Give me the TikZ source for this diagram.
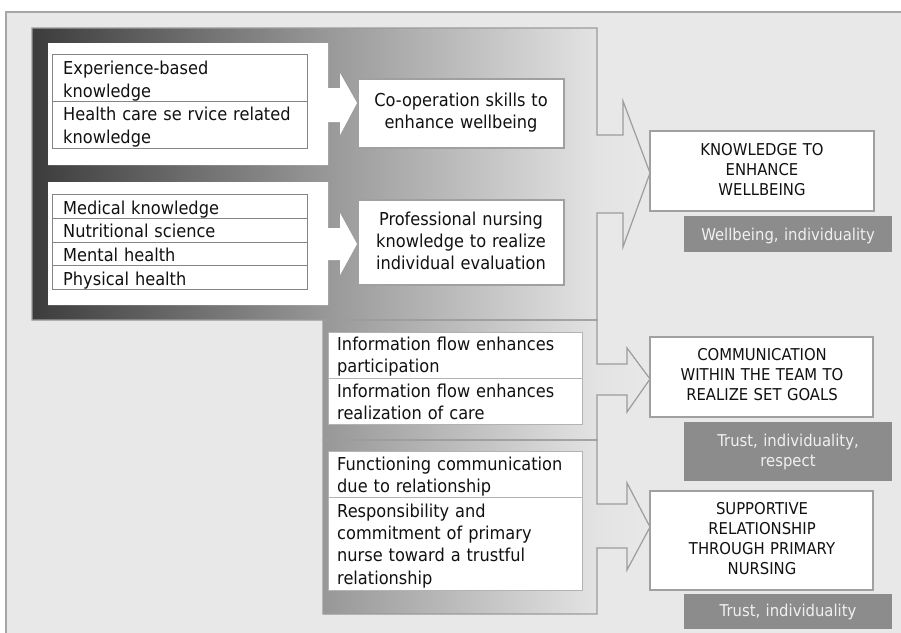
\documentclass[tikz,border=0pt]{standalone}
\usepackage{fontspec}
\setmainfont{DejaVu Sans}[FakeStretch=0.91]

% grey ramp used behind the grouped categories (dark on the left, light on the right)
\pgfdeclarehorizontalshading{panelshade}{100bp}{%
  rgb(0bp)=(0.235,0.235,0.235);
  rgb(25bp)=(0.235,0.235,0.235);
  rgb(27.3bp)=(0.27,0.27,0.27);
  rgb(49.1bp)=(0.60,0.60,0.60);
  rgb(70.7bp)=(0.89,0.89,0.89);
  rgb(75bp)=(0.91,0.91,0.91);
  rgb(100bp)=(0.91,0.91,0.91)}

\definecolor{bg}{HTML}{E8E8E8}
\definecolor{frameline}{HTML}{A6A6A6}
\definecolor{panelline}{HTML}{9C9C9C}
\definecolor{tableline}{HTML}{858585}
\definecolor{boxline}{HTML}{A0A0A0}
\definecolor{tagfill}{HTML}{8C8C8C}
\definecolor{ink}{HTML}{111111}

\tikzset{
  panel/.style={draw=panelline, line width=1.2pt},
  whiteframe/.style={fill=white, draw=none},
  listbox/.style={draw=tableline, line width=0.9pt},
  infobox/.style={fill=white, draw=boxline!80, line width=0.9pt},
  resultbox/.style={fill=white, draw=boxline, line width=1.4pt},
  midbox/.style={fill=white, draw=boxline, line width=1.1pt},
  tagbox/.style={fill=tagfill, draw=none},
  listtext/.style={anchor=base west, inner sep=0pt, text width=300pt, align=left,
    text=ink, font=\fontsize{17.8}{23}\selectfont},
  lowtext/.style={listtext, font=\fontsize{17.8}{22.4}\selectfont},
  ctext/.style={anchor=base, inner sep=0pt, text width=220pt, align=center,
    text=ink, font=\fontsize{17.8}{22.2}\selectfont},
  capstext/.style={anchor=base, inner sep=0pt, text width=220pt, align=center,
    text=ink, font=\fontsize{16.3}{20.2}\selectfont},
  tagtext/.style={anchor=base, inner sep=0pt, text width=220pt, align=center,
    text=white!94!black, font=\fontsize{16.3}{20}\selectfont},
}

\begin{document}
\begin{tikzpicture}[x=1pt,y=-1pt]
\useasboundingbox (0,0) rectangle (901,632);

% page background with its frame on the left and top
\fill[white] (0,0) rectangle (901,632);
\begin{scope}
  \clip (0,0) rectangle (901,632);
  \draw[fill=bg, draw=frameline, line width=1.6pt] (6,12) rectangle (906,640);
\end{scope}

% outlines of the three grouped panels, each ending in an arrow
\def\toppanel{(32,28) -- (597,28) -- (597,135) -- (623,135) -- (623,101) -- (650,173)
  -- (623,247) -- (623,213) -- (597,213) -- (597,320) -- (32,320) -- cycle}
\def\midpanel{(323,320) -- (597,320) -- (597,364) -- (627,364) -- (627,348) -- (650,379)
  -- (627,412) -- (627,395) -- (597,395) -- (597,440) -- (323,440) -- cycle}
\def\lowpanel{(323,440) -- (597,440) -- (597,504) -- (627,504) -- (627,483) -- (650,527)
  -- (627,570) -- (627,548) -- (597,548) -- (597,614) -- (323,614) -- cycle}

\begin{scope}
  \clip \toppanel \midpanel \lowpanel;
  \shade[shading=panelshade] (32,28) rectangle (650,614);
\end{scope}
\draw[panel] \midpanel;
\draw[panel] \lowpanel;
\draw[panel] \toppanel;

% white frames around the knowledge lists, with their arrows
\fill[whiteframe] (48,43) -- (328,43) -- (328,88) -- (340,88) -- (340,73) -- (357,103)
  -- (340,135) -- (340,122) -- (328,122) -- (328,165) -- (48,165) -- cycle;
\fill[whiteframe] (48,182) -- (328,182) -- (328,228) -- (340,228) -- (340,213) -- (357,244)
  -- (340,275) -- (340,260) -- (328,260) -- (328,305) -- (48,305) -- cycle;

% list tables
\draw[listbox] (52,54) rectangle (307,148);
\draw[listbox] (52,101) -- (307,101);
\draw[listbox] (52,194) rectangle (307,289);
\foreach \yy in {218,242,265} \draw[listbox] (52,\yy) -- (307,\yy);

\draw[infobox] (328,332) rectangle (582,424);
\draw[infobox] (328,378) -- (582,378);
\draw[infobox] (328,451) rectangle (582,590);
\draw[infobox] (328,497) -- (582,497);

% intermediate competences
\draw[midbox] (358,79) rectangle (564,148);
\draw[midbox] (358,200) rectangle (564,285);

% resulting themes and their values
\draw[resultbox] (650,131) rectangle (874,211);
\draw[resultbox] (650,337) rectangle (873,417);
\draw[resultbox] (650,491) rectangle (873,590);
\fill[tagbox] (684,216) rectangle (892,252);
\fill[tagbox] (684,422) rectangle (892,481);
\fill[tagbox] (684,594) rectangle (892,629);

% texts
\node[listtext] (exp) at (63,74) {Experience-based\\knowledge};
\node[listtext] (hcs) at (63,120) {Health care se rvice related\\knowledge};
\node[listtext] (med) at (63,214) {Medical knowledge};
\node[listtext] (nut) at (63,237) {Nutritional science};
\node[listtext] (men) at (63,261) {Mental health};
\node[listtext] (phy) at (63,285) {Physical health};

\node[ctext] (coop) at (461,106) {Co-operation skills to\\enhance wellbeing};
\node[ctext] (prof) at (461,225) {Professional nursing\\knowledge to realize\\individual evaluation};

\node[lowtext] (inf1) at (337,350) {Information flow enhances\\participation};
\node[lowtext] (inf2) at (337,397) {Information flow enhances\\realization of care};
\node[lowtext] (fun) at (337,470) {Functioning communication\\due to relationship};
\node[lowtext] (resp) at (337,517) {Responsibility and\\commitment of primary\\nurse toward a trustful\\relationship};

\node[capstext] (know) at (762,155) {KNOWLEDGE TO\\ENHANCE\\WELLBEING};
\node[capstext] (comm) at (762,360) {COMMUNICATION\\WITHIN THE TEAM TO\\REALIZE SET GOALS};
\node[capstext] (supp) at (762,514) {SUPPORTIVE\\RELATIONSHIP\\THROUGH PRIMARY\\NURSING};

\node[tagtext] (tag1) at (788,240) {Wellbeing, individuality};
\node[tagtext] (tag2) at (788,446) {Trust, individuality,\\respect};
\node[tagtext] (tag3) at (788,616) {Trust, individuality};
\end{tikzpicture}
\end{document}
